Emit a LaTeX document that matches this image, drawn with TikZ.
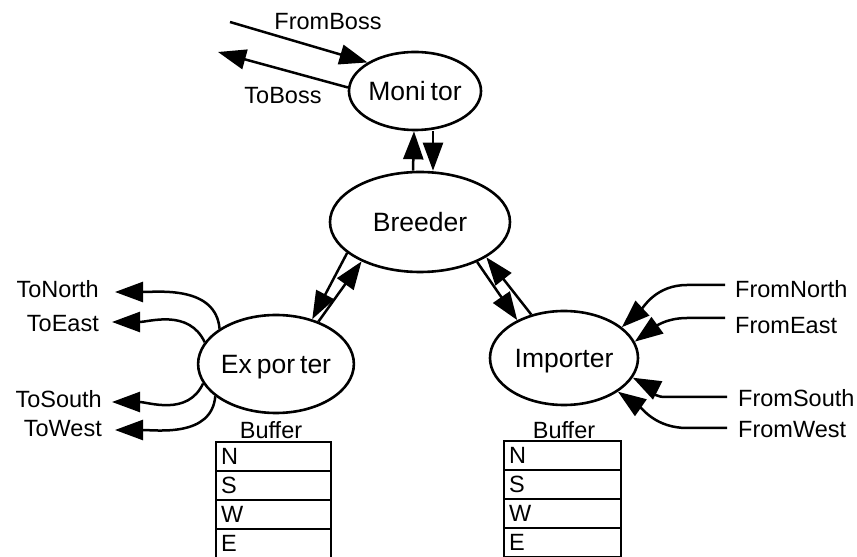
\documentclass[tikz,border=0pt]{standalone}
\usepackage{fontspec}
\setmainfont{Liberation Sans}
\usetikzlibrary{shapes.geometric,arrows.meta}
\tikzset{
  every node/.append style={font=\fontsize{23.5pt}{28pt}\selectfont},
  proc/.style={draw, ellipse, line width=2.6pt, inner sep=0pt, text depth=0pt, font=\fontsize{26.5pt}{30pt}\selectfont},
  arr/.style={-{Triangle[length=28pt,width=20pt]}, line width=2.5pt},
  lbl/.style={inner sep=0pt},
  cell/.style={draw, line width=2.6pt, minimum height=29pt, text width=#1, align=left, inner xsep=5pt, inner ysep=0pt, text depth=0pt},
}
\begin{document}
\begin{tikzpicture}[x=1pt,y=1pt]
\useasboundingbox (0,0) rectangle (857,557);
\clip (0,0) rectangle (857,557);
% processes
\node[proc, minimum width=125pt, minimum height=78pt] (monitor) at (415,466) {Moni\kern5pt tor};
\node[proc, minimum width=180pt, minimum height=100pt] (breeder) at (420,335) {Breeder};
\node[proc, minimum width=148pt, minimum height=98pt] (exporter) at (276,193) {Ex\kern5pt por\kern5pt ter};
\node[proc, minimum width=148pt, minimum height=94pt] (importer) at (564,199) {Importer};
% boss
\node[lbl] (fromboss) at (328,535) {FromBoss};
\node[lbl] (toboss) at (283,461) {ToBoss};
\coordinate (fb) at (230,535);
\coordinate (tb) at (218,505);
\draw[arr] (fb) -- (monitor.149);
\draw[arr] (monitor.177) -- (tb);
% monitor - breeder
\draw[arr] ([xshift=-7pt]breeder.north) -- ([xshift=-1pt]monitor.south);
\draw[arr] ([xshift=18pt]monitor.south) -- ([xshift=13pt]breeder.north);
% breeder - exporter
\draw[arr] (breeder.203) -- (exporter.51);
\draw[arr] (exporter.45) -- (breeder.214);
% breeder - importer
\draw[arr] (breeder.-35) -- (importer.141);
\draw[arr] (importer.127) -- (breeder.-28);
% exporter outputs
\node[lbl, anchor=east] (tonorth) at (99,268) {ToNorth};
\node[lbl, anchor=east] (toeast) at (99,233) {ToEast};
\node[lbl, anchor=east] (tosouth) at (102,158) {ToSouth};
\node[lbl, anchor=east] (towest) at (102,128) {ToWest};
\coordinate (tn) at (115,265);
\coordinate (te) at (112,235);
\coordinate (ts) at (112,155);
\coordinate (tw) at (115,127);
\draw[arr] (exporter.148) to[out=95,in=0] (tn);
\draw[arr] (exporter.163) to[out=115,in=0] (te);
\draw[arr] (exporter.195) to[out=245,in=0] (ts);
\draw[arr] (exporter.208) to[out=265,in=0] (tw);
% importer inputs
\node[lbl, anchor=west] (fromnorth) at (735,268) {FromNorth};
\node[lbl, anchor=west] (fromeast) at (735,231) {FromEast};
\node[lbl, anchor=west] (fromsouth) at (738,159) {FromSouth};
\node[lbl, anchor=west] (fromwest) at (738,127) {FromWest};
\coordinate (fn) at (725,272);
\coordinate (fe) at (725,239);
\coordinate (fs) at (727,160);
\coordinate (fw) at (727,129);
\draw[arr] (fn) -- (687,272) to[out=180,in=43] (importer.28);
\draw[arr] (fe) -- (687,239) to[out=180,in=36] (importer.13);
\draw[arr] (fs) -- (665,160) to[out=180,in=-27] (importer.-16);
\draw[arr] (fw) -- (687,129) to[out=180,in=-35] (importer.-32);
% buffers
\node[lbl] (bufl) at (271,127) {Buffer};
\node[lbl] (bufr) at (564,127) {Buffer};
\node[cell=105pt] (ln) at (273.5,100.5) {N};
\node[cell=105pt] (ls) at (273.5,71.5) {S};
\node[cell=105pt] (lw) at (273.5,42.5) {W};
\node[cell=105pt] (le) at (273.5,13.5) {E};
\node[cell=107pt] (rn) at (562.5,101.5) {N};
\node[cell=107pt] (rs) at (562.5,72.5) {S};
\node[cell=107pt] (rw) at (562.5,43.5) {W};
\node[cell=107pt] (re) at (562.5,14.5) {E};
\end{tikzpicture}
\end{document}
